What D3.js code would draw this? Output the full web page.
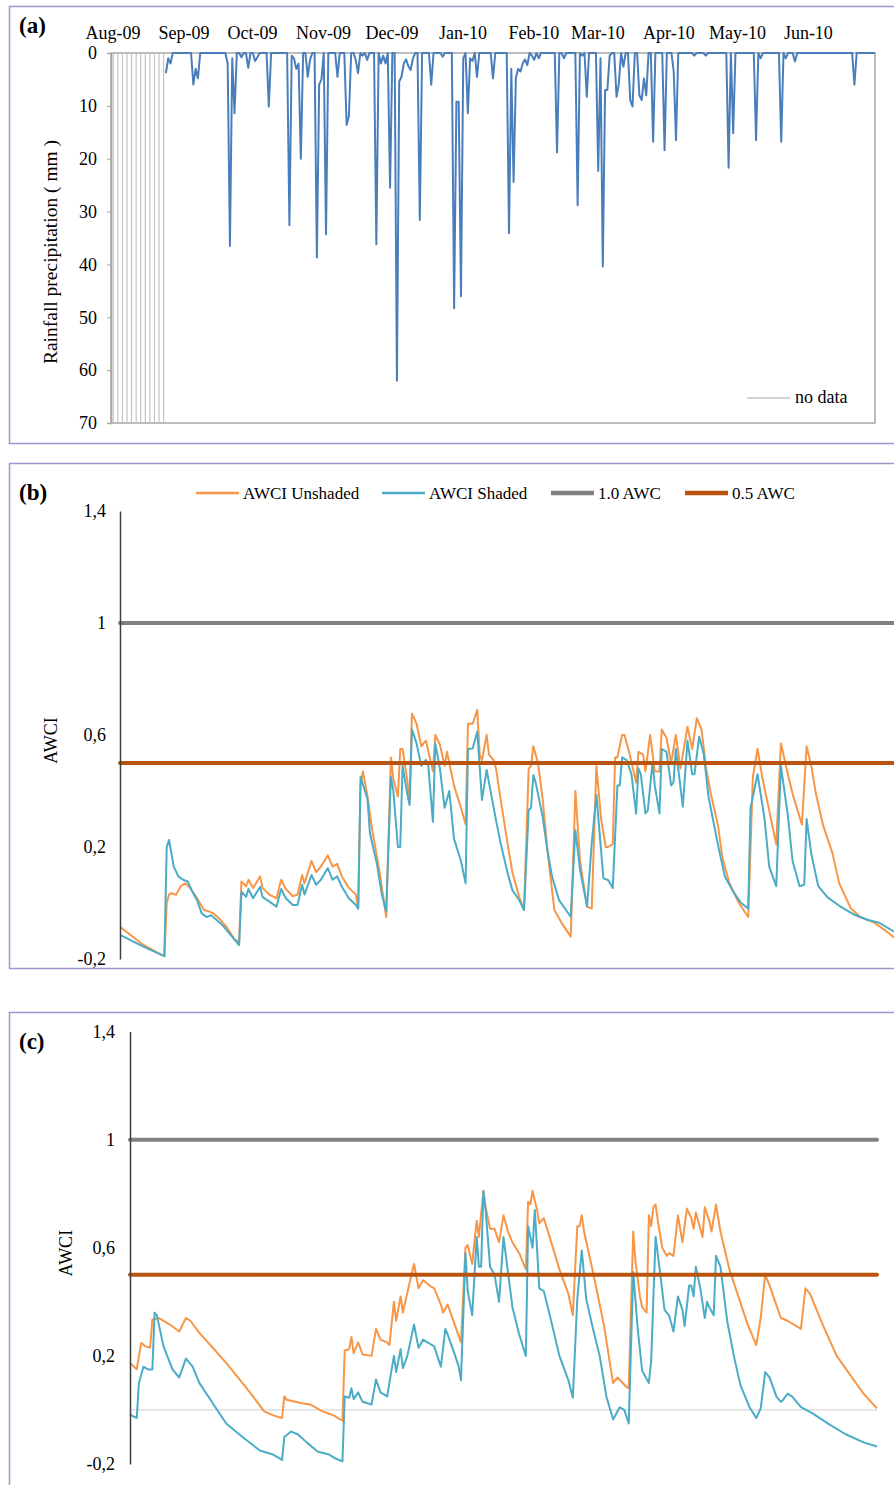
<!DOCTYPE html>
<html>
<head>
<meta charset="utf-8">
<script src="https://cdn.jsdelivr.net/npm/d3@7"></script>
<style>
  body { margin: 0; background: #fff; }
  svg { display: block; }
  text { font-family: "Liberation Serif", "Times New Roman", serif; fill: #000; }
</style>
</head>
<body>
<svg id="chart" width="894" height="1485"></svg>
<script>
// ── Data (day index 0 = 1 Aug 2009) ─────────────────────────────────────────
const months = ['Aug-09', 'Sep-09', 'Oct-09', 'Nov-09', 'Dec-09', 'Jan-10', 'Feb-10', 'Mar-10', 'Apr-10', 'May-10', 'Jun-10'];
const monthStartDays = [0, 31, 61, 92, 122, 153, 184, 212, 243, 273, 304];
const lastDay = 334;

const rainTicks = [0, 10, 20, 30, 40, 50, 60, 70];
const awciTicks = [-0.2, 0.2, 0.6, 1, 1.4];
const refLevels = [1.0, 0.5];

const noDataDays = [1, 3, 5, 7, 9, 11, 13, 15, 17, 19, 21, 23];
const rainFirstDay = 24;

// rainy days [day, mm]; every other recorded day is 0 mm
const rainEvents = [
  [24, 3.8], [25, 1], [26, 2], [36, 6], [37, 3], [38, 4.8],
  [51, 2], [52, 36.5], [53, 1], [54, 11.4], [57, 0.8], [60, 2.8], [63, 1.5], [64, 0.8], [69, 10.1],
  [78, 32.6], [79, 0.5], [80, 1], [81, 3], [82, 2], [83, 20], [86, 4.5], [87, 1.3],
  [90, 38.7], [91, 6], [92, 5], [94, 34.3], [99, 4.5], [103, 13.6], [104, 12],
  [107, 1.3], [108, 3.8], [110, 0.5], [112, 1.3], [116, 36.2], [118, 2], [119, 0.5], [120, 2],
  [122, 25.5], [125, 62], [126, 5.4], [127, 4.5], [128, 2], [129, 1.2], [130, 2.5], [131, 3.2], [132, 1],
  [135, 31.6], [140, 6], [145, 0.7], [150, 48.3], [151, 9.2], [152, 9.2], [153, 46], [154, 1],
  [156, 11.4], [157, 1], [158, 1.5], [160, 4.5], [167, 4.8],
  [174, 34.1], [175, 3], [176, 24.4], [177, 4.7], [178, 3], [179, 3.5], [180, 2], [181, 1.2], [182, 2.3],
  [184, 0.5], [185, 1.3], [187, 1], [195, 18.8], [198, 1], [204, 28.8], [206, 0.5], [208, 8.3],
  [213, 22.3], [214, 1], [215, 40.4], [216, 7], [217, 7], [218, 0.5], [221, 8.3], [222, 5.8], [224, 2.6],
  [227, 8.9], [228, 10.1], [231, 8], [232, 8.9], [233, 4.8], [234, 8], [237, 16.8], [242, 18.4],
  [246, 3.5], [247, 16.5], [255, 0.5], [260, 0.5], [270, 21.7], [272, 15.2], [282, 16.5], [284, 1],
  [293, 16.8], [295, 1], [299, 1.6], [325, 6]
];

// panel (b) AWCI [day, value]
const awciUnshadedB = [
  [0, -0.085], [10, -0.15], [18, -0.186], [19, -0.19], [20, 0.0], [21, 0.03], [22, 0.035], [24, 0.029],
  [26, 0.06], [28, 0.07], [30, 0.054], [33, 0.017], [36, -0.025], [38, -0.03], [40, -0.037], [43, -0.06],
  [46, -0.09], [49, -0.13], [51, -0.14], [52, 0.077], [54, 0.06], [55, 0.083], [57, 0.054], [60, 0.095],
  [61, 0.054], [64, 0.03], [67, 0.017], [69, 0.083], [71, 0.05], [74, 0.024], [76, 0.03], [78, 0.1],
  [79, 0.07], [82, 0.15], [84, 0.11], [86, 0.13], [89, 0.17], [91, 0.13], [93, 0.14], [95, 0.095],
  [98, 0.054], [101, 0.03], [102, -0.02], [103, 0.42], [104, 0.47], [106, 0.38], [108, 0.26], [111, 0.12],
  [114, -0.05], [116, 0.52], [117, 0.445], [119, 0.38], [120, 0.55], [121, 0.55], [123, 0.44], [124, 0.36],
  [125, 0.677], [127, 0.64], [129, 0.56], [131, 0.58], [134, 0.47], [135, 0.6], [137, 0.565], [139, 0.49],
  [140, 0.54], [143, 0.42], [146, 0.34], [148, 0.28], [149, 0.64], [151, 0.64], [153, 0.69], [154, 0.53],
  [155, 0.51], [157, 0.6], [158, 0.53], [160, 0.51], [161, 0.48], [163, 0.37], [166, 0.21], [168, 0.11],
  [171, 0.02], [173, -0.025], [175, 0.48], [176, 0.49], [177, 0.56], [179, 0.5], [181, 0.37], [183, 0.19],
  [186, -0.025], [189, -0.07], [193, -0.12], [195, 0.4], [197, 0.15], [200, -0.013], [202, -0.02],
  [204, 0.49], [206, 0.3], [208, 0.2], [209, 0.2], [211, 0.21], [212, 0.52], [213, 0.52], [215, 0.6],
  [216, 0.6], [218, 0.54], [221, 0.43], [222, 0.54], [224, 0.53], [225, 0.47], [227, 0.6], [229, 0.47],
  [231, 0.47], [232, 0.62], [234, 0.59], [236, 0.5], [238, 0.6], [240, 0.48], [243, 0.63], [245, 0.55],
  [247, 0.66], [249, 0.62], [251, 0.48], [253, 0.39], [256, 0.28], [258, 0.16], [261, 0.07], [265, 0.0],
  [269, -0.05], [271, 0.45], [273, 0.55], [275, 0.45], [278, 0.33], [281, 0.21], [283, 0.57], [286, 0.46],
  [288, 0.39], [292, 0.28], [294, 0.56], [296, 0.49], [298, 0.39], [301, 0.28], [305, 0.18], [308, 0.07],
  [313, -0.02], [317, -0.05], [323, -0.07], [328, -0.1], [331, -0.12], [334, -0.13]
];
const awciShadedB = [
  [0, -0.114], [10, -0.156], [18, -0.186], [19, -0.19], [20, 0.2], [21, 0.225], [23, 0.13], [25, 0.095],
  [27, 0.083], [29, 0.077], [31, 0.04], [33, 0.01], [35, -0.037], [37, -0.05], [39, -0.044], [41, -0.058],
  [44, -0.08], [47, -0.11], [49, -0.13], [51, -0.15], [52, 0.04], [54, 0.022], [55, 0.05], [57, 0.017],
  [60, 0.058], [61, 0.022], [64, 0.005], [67, -0.013], [69, 0.05], [71, 0.017], [74, -0.007], [76, -0.007],
  [78, 0.065], [79, 0.03], [82, 0.1], [84, 0.065], [86, 0.083], [89, 0.125], [91, 0.083], [93, 0.095],
  [95, 0.058], [98, 0.017], [101, -0.007], [102, -0.02], [103, 0.451], [106, 0.37], [107, 0.25], [110, 0.14],
  [112, 0.035], [114, -0.03], [116, 0.45], [117, 0.404], [119, 0.2], [120, 0.2], [121, 0.49], [123, 0.39],
  [124, 0.35], [125, 0.62], [127, 0.57], [129, 0.49], [131, 0.511], [132, 0.49], [134, 0.29], [135, 0.57],
  [137, 0.48], [139, 0.34], [141, 0.4], [143, 0.23], [146, 0.15], [148, 0.07], [149, 0.55], [151, 0.552],
  [153, 0.612], [154, 0.487], [155, 0.368], [157, 0.475], [158, 0.43], [161, 0.296], [163, 0.213],
  [166, 0.106], [168, 0.046], [171, 0.01], [173, -0.025], [175, 0.332], [176, 0.34], [177, 0.457],
  [178, 0.43], [181, 0.308], [183, 0.19], [185, 0.095], [188, 0.01], [191, -0.025], [193, -0.049],
  [195, 0.26], [197, 0.118], [200, -0.013], [202, 0.213], [204, 0.386], [207, 0.088], [209, 0.082],
  [211, 0.054], [213, 0.42], [214, 0.42], [215, 0.52], [217, 0.51], [219, 0.46], [221, 0.319], [222, 0.48],
  [223, 0.46], [225, 0.32], [226, 0.33], [228, 0.5], [229, 0.42], [231, 0.32], [232, 0.55], [234, 0.54],
  [236, 0.42], [237, 0.43], [238, 0.55], [241, 0.344], [243, 0.58], [245, 0.46], [246, 0.46], [248, 0.594],
  [250, 0.53], [252, 0.38], [256, 0.21], [259, 0.095], [263, 0.035], [266, 0.0], [269, -0.02], [270, 0.34],
  [273, 0.46], [276, 0.3], [278, 0.13], [281, 0.06], [283, 0.49], [286, 0.31], [288, 0.15], [291, 0.06],
  [293, 0.065], [294, 0.3], [296, 0.177], [299, 0.06], [303, 0.02], [308, -0.01], [314, -0.04], [320, -0.06],
  [325, -0.07], [331, -0.1], [334, -0.11]
];

// panel (c) AWCI [day, value]
const awciUnshadedC = [
  [0, 0.174], [3, 0.15], [5, 0.248], [7, 0.235], [9, 0.23], [10, 0.334], [13, 0.34], [18, 0.315], [22, 0.29],
  [25, 0.34], [27, 0.33], [31, 0.285], [37, 0.23], [43, 0.174], [49, 0.113], [55, 0.05], [60, -0.005],
  [64, -0.02], [68, -0.03], [69, 0.05], [70, 0.038], [73, 0.032], [77, 0.025], [81, 0.019], [86, -0.005],
  [91, -0.02], [95, -0.04], [96, 0.22], [98, 0.225], [99, 0.27], [100, 0.21], [102, 0.25], [104, 0.205],
  [108, 0.2], [110, 0.3], [112, 0.26], [115, 0.25], [116, 0.24], [118, 0.4], [119, 0.33], [121, 0.42],
  [122, 0.36], [125, 0.47], [127, 0.54], [129, 0.45], [131, 0.48], [134, 0.46], [136, 0.45], [139, 0.39],
  [140, 0.36], [142, 0.39], [145, 0.32], [148, 0.25], [150, 0.6], [151, 0.61], [153, 0.54], [155, 0.7],
  [156, 0.64], [158, 0.81], [159, 0.75], [161, 0.67], [163, 0.67], [165, 0.62], [167, 0.72], [169, 0.66],
  [171, 0.62], [174, 0.58], [177, 0.52], [178, 0.77], [179, 0.76], [180, 0.81], [182, 0.74], [183, 0.69],
  [185, 0.71], [188, 0.63], [192, 0.52], [196, 0.43], [198, 0.35], [200, 0.68], [201, 0.68], [202, 0.72],
  [203, 0.66], [207, 0.51], [212, 0.31], [215, 0.15], [216, 0.1], [218, 0.12], [222, 0.085], [223, 0.08],
  [225, 0.66], [226, 0.55], [228, 0.42], [229, 0.38], [231, 0.36], [232, 0.72], [233, 0.68], [234, 0.75],
  [235, 0.76], [236, 0.7], [238, 0.6], [240, 0.57], [241, 0.58], [243, 0.57], [245, 0.72], [247, 0.62],
  [249, 0.745], [251, 0.71], [252, 0.67], [253, 0.73], [256, 0.64], [257, 0.75], [259, 0.7], [260, 0.66],
  [262, 0.76], [264, 0.66], [268, 0.52], [272, 0.42], [276, 0.32], [280, 0.24], [282, 0.34], [284, 0.5],
  [286, 0.46], [291, 0.34], [294, 0.33], [300, 0.3], [302, 0.45], [304, 0.43], [310, 0.31], [316, 0.2],
  [322, 0.13], [328, 0.06], [334, 0.006]
];
const awciShadedC = [
  [0, -0.017], [3, -0.03], [4, 0.1], [6, 0.16], [8, 0.15], [10, 0.15], [11, 0.36], [12, 0.35], [15, 0.235],
  [19, 0.15], [22, 0.12], [25, 0.19], [28, 0.16], [31, 0.1], [37, 0.025], [43, -0.05], [51, -0.105],
  [58, -0.15], [64, -0.165], [68, -0.185], [69, -0.1], [72, -0.08], [75, -0.09], [79, -0.12], [84, -0.155],
  [89, -0.165], [92, -0.18], [95, -0.19], [96, 0.05], [98, 0.045], [99, 0.08], [100, 0.04], [102, 0.065],
  [104, 0.03], [108, 0.02], [110, 0.113], [112, 0.065], [115, 0.05], [118, 0.2], [119, 0.14], [121, 0.225],
  [122, 0.155], [124, 0.2], [127, 0.316], [129, 0.23], [131, 0.26], [136, 0.235], [139, 0.16], [141, 0.3],
  [142, 0.28], [145, 0.21], [147, 0.16], [148, 0.11], [150, 0.58], [151, 0.44], [153, 0.35], [155, 0.64],
  [156, 0.53], [157, 0.53], [158, 0.81], [159, 0.74], [161, 0.53], [163, 0.5], [165, 0.4], [167, 0.64],
  [169, 0.51], [171, 0.38], [174, 0.28], [177, 0.2], [178, 0.68], [180, 0.6], [181, 0.74], [183, 0.45],
  [185, 0.44], [188, 0.34], [192, 0.2], [196, 0.11], [198, 0.045], [200, 0.41], [202, 0.59], [204, 0.41],
  [207, 0.3], [210, 0.2], [213, 0.05], [216, -0.035], [219, 0.01], [221, 0.0], [223, -0.05], [225, 0.51],
  [227, 0.3], [229, 0.145], [232, 0.1], [233, 0.18], [235, 0.64], [237, 0.51], [239, 0.37], [241, 0.35],
  [243, 0.29], [245, 0.42], [247, 0.37], [248, 0.31], [250, 0.46], [251, 0.46], [252, 0.42], [253, 0.53],
  [255, 0.45], [257, 0.34], [258, 0.4], [259, 0.38], [261, 0.35], [262, 0.57], [264, 0.53], [267, 0.33],
  [270, 0.2], [273, 0.09], [277, 0.01], [280, -0.03], [282, 0.006], [284, 0.14], [286, 0.12], [289, 0.05],
  [291, 0.03], [292, 0.037], [294, 0.06], [296, 0.05], [300, 0.01], [305, -0.012], [313, -0.055],
  [320, -0.09], [328, -0.12], [334, -0.135]
];

// ── Styles ──────────────────────────────────────────────────────────────────
const FRAME = '#a792d0';
const RAIN = '#4a7ebb';
const NODATA = '#c4c4c4';
const ORANGE = '#f79646';
const BLUE = '#4bacc6';
const REF_COLORS = ['#808080', '#b8540f'];
const FS = 18;

const svg = d3.select('#chart');
const fmtComma = d => String(d).replace('.', ',');

// panel frames
[[6, 443], [463, 968], [1012, 1520]].forEach(([t, b]) => {
  svg.append('rect')
    .attr('x', 9.5).attr('y', t + 0.5)
    .attr('width', 920).attr('height', b - t)
    .attr('fill', 'none').attr('stroke', FRAME).attr('stroke-width', 1.5);
});

function panelTag(label, x, y) {
  svg.append('text').attr('x', x).attr('y', y)
    .attr('font-size', 23).attr('font-weight', 700).text(label);
}

// ── (a) Rainfall ────────────────────────────────────────────────────────────
const xA = d3.scaleLinear().domain([0, lastDay]).range([111, 875]);
const yA = d3.scaleLinear().domain([0, 70]).range([53, 423]);
const gA = svg.append('g');

gA.append('rect')
  .attr('x', xA(0)).attr('y', yA(0))
  .attr('width', xA(lastDay) - xA(0)).attr('height', yA(70) - yA(0))
  .attr('fill', 'none').attr('stroke', '#a6a6a6').attr('stroke-width', 1.5);

gA.selectAll('line.nodata')
  .data(noDataDays)
  .join('line')
  .attr('class', 'nodata')
  .attr('x1', d => xA(d)).attr('x2', d => xA(d))
  .attr('y1', yA(0)).attr('y2', yA(70))
  .attr('stroke', NODATA).attr('stroke-width', 1.2);

const rainByDay = new Map(rainEvents);
const rainDaily = d3.range(rainFirstDay, lastDay + 1).map(d => [d, rainByDay.get(d) || 0]);

gA.append('path')
  .datum(rainDaily)
  .attr('fill', 'none')
  .attr('stroke', RAIN)
  .attr('stroke-width', 2)
  .attr('stroke-linejoin', 'round')
  .attr('d', d3.line().x(d => xA(d[0])).y(d => yA(d[1])));

const axA = gA.append('g')
  .attr('transform', `translate(${xA(0)},0)`)
  .call(d3.axisLeft(yA).tickValues(rainTicks).tickSize(4).tickPadding(10));
axA.select('.domain').attr('stroke', '#a6a6a6').attr('stroke-width', 1.5);
axA.selectAll('.tick line').attr('stroke', '#a6a6a6');
axA.selectAll('.tick text').attr('font-size', FS).attr('font-family', null).attr('fill', '#000');

gA.selectAll('text.month')
  .data(months)
  .join('text')
  .attr('class', 'month')
  .attr('x', (d, i) => xA(monthStartDays[i]) + 2)
  .attr('y', 39)
  .attr('text-anchor', 'middle')
  .attr('font-size', FS)
  .text(d => d);

gA.append('text')
  .attr('transform', `translate(57,252) rotate(-90)`)
  .attr('text-anchor', 'middle')
  .attr('font-size', 19.5)
  .text('Rainfall  precipitation ( mm )');

gA.append('line')
  .attr('x1', 747).attr('x2', 790).attr('y1', 398).attr('y2', 398)
  .attr('stroke', NODATA).attr('stroke-width', 1.5);
gA.append('text').attr('x', 795).attr('y', 403).attr('font-size', FS).text('no data');

panelTag('(a)', 19, 33);

// ── (b), (c) AWCI ───────────────────────────────────────────────────────────
function awciPanel({ left, right, top, bottom, unshaded, shaded, zeroLine, labelX, tickPad }) {
  const x = d3.scaleLinear().domain([0, lastDay]).range([left, right]);
  const y = d3.scaleLinear().domain([-0.2, 1.4]).range([bottom, top]);
  const g = svg.append('g');

  if (zeroLine) {
    g.append('line')
      .attr('x1', x(0)).attr('x2', x(lastDay)).attr('y1', y(0)).attr('y2', y(0))
      .attr('stroke', '#d9d9d9').attr('stroke-width', 1.2);
  }

  const line = d3.line().x(d => x(d[0])).y(d => y(d[1]));
  [[unshaded, ORANGE], [shaded, BLUE]].forEach(([data, color]) => {
    g.append('path')
      .datum(data)
      .attr('fill', 'none')
      .attr('stroke', color)
      .attr('stroke-width', 2)
      .attr('stroke-linejoin', 'round')
      .attr('d', line);
  });

  g.selectAll('line.ref')
    .data(refLevels)
    .join('line')
    .attr('class', 'ref')
    .attr('x1', x(0)).attr('x2', x(lastDay))
    .attr('y1', d => y(d)).attr('y2', d => y(d))
    .attr('stroke', (d, i) => REF_COLORS[i])
    .attr('stroke-width', 4)
    .attr('stroke-linecap', 'round');

  const ax = g.append('g')
    .attr('transform', `translate(${left},0)`)
    .call(d3.axisLeft(y).tickValues(awciTicks).tickSize(0).tickPadding(tickPad).tickFormat(fmtComma));
  ax.select('.domain').attr('stroke', '#404040').attr('stroke-width', 1.5);
  ax.selectAll('.tick text').attr('font-size', FS).attr('font-family', null).attr('fill', '#000');

  g.append('text')
    .attr('transform', `translate(${labelX},${y(0.58)}) rotate(-90)`)
    .attr('text-anchor', 'middle')
    .attr('font-size', FS)
    .text('AWCI');
}

awciPanel({
  left: 120, right: 900, top: 511, bottom: 959,
  unshaded: awciUnshadedB, shaded: awciShadedB,
  zeroLine: false, labelX: 57, tickPad: 14
});

awciPanel({
  left: 130, right: 877, top: 1031.5, bottom: 1464,
  unshaded: awciUnshadedC, shaded: awciShadedC,
  zeroLine: true, labelX: 72, tickPad: 15
});

// legend for (b)
const legendItems = [
  { label: 'AWCI  Unshaded', color: ORANGE, w: 2.5, x: 196 },
  { label: 'AWCI Shaded', color: BLUE, w: 2.5, x: 382 },
  { label: '1.0 AWC', color: REF_COLORS[0], w: 4.5, x: 551 },
  { label: '0.5 AWC', color: REF_COLORS[1], w: 4.5, x: 685 }
];
const lg = svg.append('g').attr('transform', 'translate(0,493)');
lg.selectAll('line')
  .data(legendItems)
  .join('line')
  .attr('x1', d => d.x).attr('x2', d => d.x + 43)
  .attr('y1', 0).attr('y2', 0)
  .attr('stroke', d => d.color).attr('stroke-width', d => d.w);
lg.selectAll('text')
  .data(legendItems)
  .join('text')
  .attr('x', d => d.x + 47).attr('y', 5.5)
  .attr('font-size', 17)
  .text(d => d.label);

panelTag('(b)', 19, 500);
panelTag('(c)', 19, 1049);
</script>
</body>
</html>
